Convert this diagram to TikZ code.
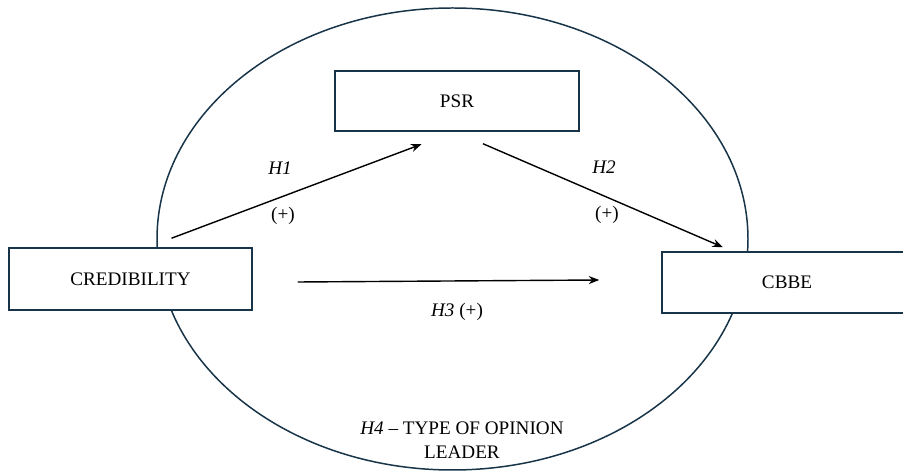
\documentclass[tikz,border=0pt]{standalone}
\usepackage{fontspec}
\setmainfont{Liberation Serif}
\usepackage{tikz}
\usetikzlibrary{positioning, arrows.meta}
\definecolor{FrameNavy}{RGB}{24, 52, 72}

\begin{document}
\begin{tikzpicture}[font=\fontsize{10.9}{13.6}\selectfont,
      construct/.style={rectangle, draw=FrameNavy, fill=white, line width=0.85pt, text centered, minimum height=1.22cm},
      path/.style={-{Stealth[length=6pt, width=4.6pt]}, line width=0.8pt, black},
      hyp/.style={inner sep=1pt}
    ]
      \useasboundingbox (0,0) rectangle (18.06,9.44);
      % moderator
      \draw[FrameNavy, line width=0.85pt] (9.05,4.66) ellipse (5.91cm and 4.62cm);

      \node[construct, minimum width=4.88cm, minimum height=1.2cm] (psr) at (9.14,7.42) {PSR};
      \node[construct, minimum width=4.86cm, minimum height=1.24cm] (cred) at (2.61,3.86) {CREDIBILITY};
      \node[construct, minimum width=5.0cm] (cbbe) at (15.74,3.79) {CBBE};

      \draw[path] ([xshift=0.82cm, yshift=0.18cm]cred.north) -- ([xshift=-0.71cm, yshift=-0.25cm]psr.south);
      \draw[path] ([xshift=0.52cm, yshift=-0.24cm]psr.south) -- ([xshift=-1.28cm, yshift=0.08cm]cbbe.north);
      \draw[path] ([xshift=0.9cm, yshift=-0.06cm]cred.east) -- ([xshift=-1.24cm, yshift=0.05cm]cbbe.west);

      \node[hyp] (h1) at (5.60,6.08) {\textit{H1}};
      \node[hyp] (h1s) at (5.66,5.12) {(+)};
      \node[hyp] (h2) at (12.08,6.10) {\textit{H2}};
      \node[hyp] (h2s) at (12.14,5.14) {(+)};
      \node[hyp] (h3) at (9.14,3.20) {\textit{H3} (+)};
      \node[hyp, align=center] (h4) at (9.24,0.64) {\textit{H4} – TYPE OF OPINION\\LEADER};
    \end{tikzpicture}
\end{document}
